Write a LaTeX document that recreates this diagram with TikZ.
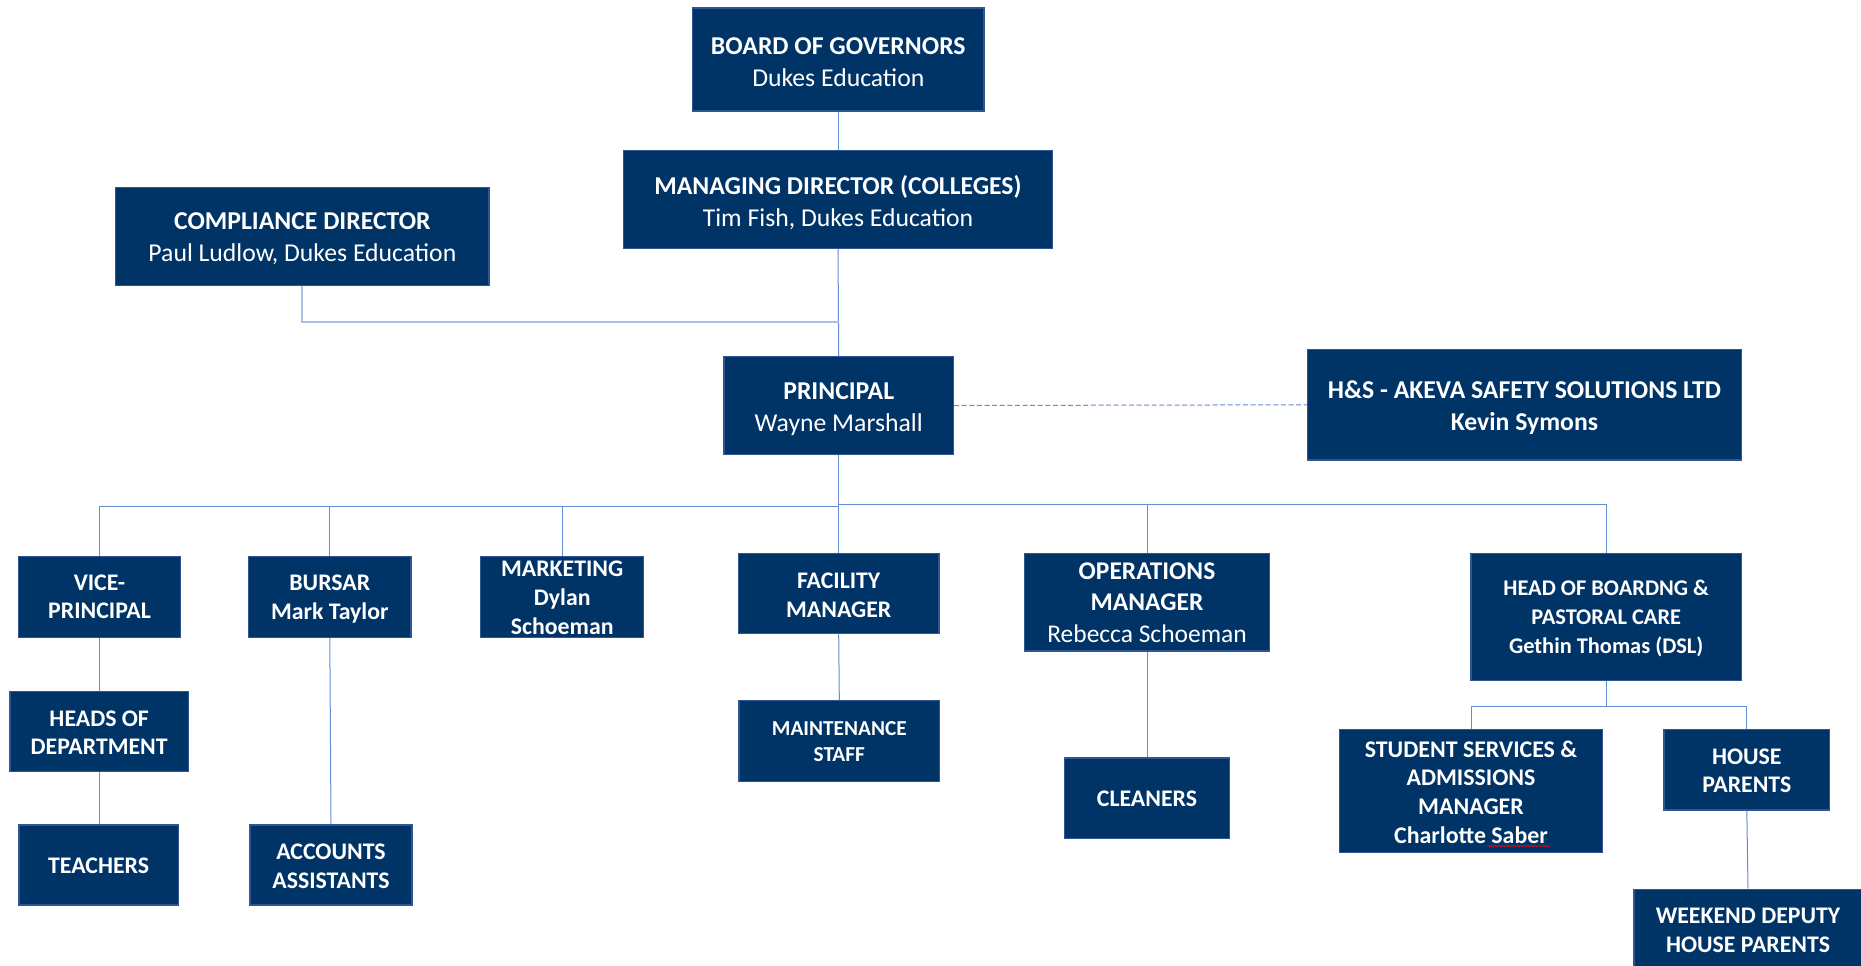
\documentclass[tikz,border=0pt]{standalone}
\usepackage{fontspec}
\setmainfont{Carlito}
\usetikzlibrary{decorations.pathmorphing}
\definecolor{boxfill}{RGB}{0,51,102}
\definecolor{boxline}{RGB}{47,85,151}
\definecolor{conn}{RGB}{100,140,210}
\definecolor{connlight}{RGB}{170,192,229}
\tikzset{
  boxshape/.style={draw=boxline, line width=0.7pt, fill=boxfill, inner sep=0pt},
  boxtext/.style={text=white, align=center, inner sep=0pt},
  big/.style={font=\fontsize{12.85}{16}\selectfont},
  mid/.style={font=\fontsize{11.9}{14.2}\selectfont\bfseries},
  link/.style={draw=conn, line width=0.5pt},
  lightlink/.style={draw=connlight, line width=1pt},
}
% #1 name, #2 x, #3 y (px), #4 width, #5 height, #6 text style, #7 downward text shift, #8 text
\newcommand\orgbox[8]{%
  \node[boxshape, minimum width=#4, minimum height=#5] (#1) at (#2,#3) {};
  \node[boxtext, #6] (#1-t) at ([yshift=-#7]#1.center) {#8};}
\begin{document}
\begin{tikzpicture}[x=0.5pt,y=-0.5pt]
\useasboundingbox (0,0) rectangle (1861,965);
\clip (0,0) rectangle (1861,965);
\fill[white] (0,0) rectangle (1861,965);

% helper coordinates for bus levels
\coordinate (cy) at (0,321.7);
\coordinate (busL) at (0,506);
\coordinate (busR) at (0,504.5);
\coordinate (sb) at (0,706);

% nodes
\orgbox{board}{838.3}{59.5}{145.75pt}{51.5pt}{big}{1.4pt}{\textbf{BOARD OF GOVERNORS}\\Dukes Education}
\orgbox{md}{838}{199.5}{214.35pt}{48.8pt}{big}{1.5pt}{\textbf{MANAGING DIRECTOR (COLLEGES)}\\Tim Fish, Dukes Education}
\orgbox{comp}{302.4}{236.5}{186.65pt}{48.8pt}{big}{1.1pt}{\textbf{COMPLIANCE DIRECTOR}\\Paul Ludlow, Dukes Education}
\orgbox{prin}{838.7}{405.5}{114.7pt}{48.8pt}{big}{1.7pt}{\textbf{PRINCIPAL}\\Wayne Marshall}
\orgbox{hs}{1524.4}{404.8}{216.9pt}{55.15pt}{font=\fontsize{12.85}{15.9}\selectfont\bfseries}{1.5pt}{H\&S - AKEVA SAFETY SOLUTIONS LTD\\Kevin Symons}

\orgbox{vp}{99.5}{596.8}{81.1pt}{40.5pt}{mid}{0pt}{VICE-\\PRINCIPAL}
\orgbox{bursar}{329.8}{596.8}{81.15pt}{40.5pt}{mid}{1.2pt}{BURSAR\\Mark Taylor}
\orgbox{mkt}{562.2}{596.8}{81.5pt}{40.5pt}{font=\fontsize{11.9}{14.6}\selectfont\bfseries}{0.6pt}{MARKETING\\Dylan\\Schoeman}
\orgbox{fac}{838.7}{593.7}{100.15pt}{40pt}{font=\fontsize{11.9}{14.5}\selectfont\bfseries}{0.9pt}{FACILITY\\MANAGER}
\orgbox{ops}{1147}{602.4}{122.5pt}{48.75pt}{font=\fontsize{12.75}{15.75}\selectfont}{0pt}{\textbf{OPERATIONS}\\\textbf{MANAGER}\\Rebecca Schoeman}
\orgbox{hob}{1606.2}{617}{135.15pt}{63.4pt}{font=\fontsize{11.2}{14.4}\selectfont\bfseries}{0.8pt}{HEAD OF BOARDNG \&\\PASTORAL CARE\\Gethin Thomas (DSL)}

\orgbox{hod}{99.2}{731.7}{89.4pt}{40pt}{mid}{0.6pt}{HEADS OF\\DEPARTMENT}
\orgbox{teach}{98.6}{865}{79.6pt}{40pt}{mid}{0.6pt}{TEACHERS}
\orgbox{acc}{331}{865}{81.15pt}{40pt}{mid}{0.6pt}{ACCOUNTS\\ASSISTANTS}
\orgbox{maint}{839.3}{741.2}{100.15pt}{40.5pt}{font=\fontsize{10.65}{12.85}\selectfont\bfseries}{0.3pt}{MAINTENANCE\\STAFF}
\orgbox{clean}{1147}{798.3}{82.75pt}{40.3pt}{mid}{0pt}{CLEANERS}
\orgbox{ssa}{1471}{791}{131.75pt}{61.3pt}{font=\fontsize{11.95}{14.45}\selectfont\bfseries}{0.6pt}{STUDENT SERVICES \&\\ADMISSIONS\\MANAGER\\Charlotte Saber}
\orgbox{hp}{1746.8}{769.7}{82.75pt}{40.1pt}{mid}{0.5pt}{HOUSE\\PARENTS}
\orgbox{wk}{1748}{929.7}{113.85pt}{40.5pt}{mid}{0.3pt}{WEEKEND DEPUTY\\HOUSE PARENTS}

% spell-check underline
\draw[red, line width=0.35pt, decorate, decoration={snake, amplitude=0.4pt, segment length=1.8pt}] (1487,846) -- (1550,846);

% connectors
\draw[link] (board.south) -- (board.south |- md.north);
\draw[link] (md.south) -- (prin.north);
\draw[lightlink] (comp.south) |- (prin.north |- cy);
\draw[link, dash pattern=on 2.5pt off 1.3pt] (prin.east) -- (hs.west);

\draw[link] (prin.south) -- (prin.south |- busL);
\draw[link] (vp.north) |- (prin.south |- busL);
\draw[link] (bursar.north) -- (bursar.north |- busL);
\draw[link] (mkt.north) -- (mkt.north |- busL);
\draw[link] (fac.north) -- (fac.north |- busL);
\draw[link] (prin.south |- busR) -| (hob.north);
\draw[link] (ops.north) -- (ops.north |- busR);

\draw[link] (vp.south) -- (vp.south |- hod.north);
\draw[link] (hod.south) -- (hod.south |- teach.north);
\draw[link] (bursar.south) -- (acc.north);
\draw[link] (fac.south) -- (maint.north);
\draw[link] (ops.south) -- (clean.north);

\draw[link] (hob.south) -- (hob.south |- sb);
\draw[link] (ssa.north) |- (hp.north |- sb) -- (hp.north);
\draw[link] (hp.south) -- (wk.north);
\end{tikzpicture}
\end{document}
